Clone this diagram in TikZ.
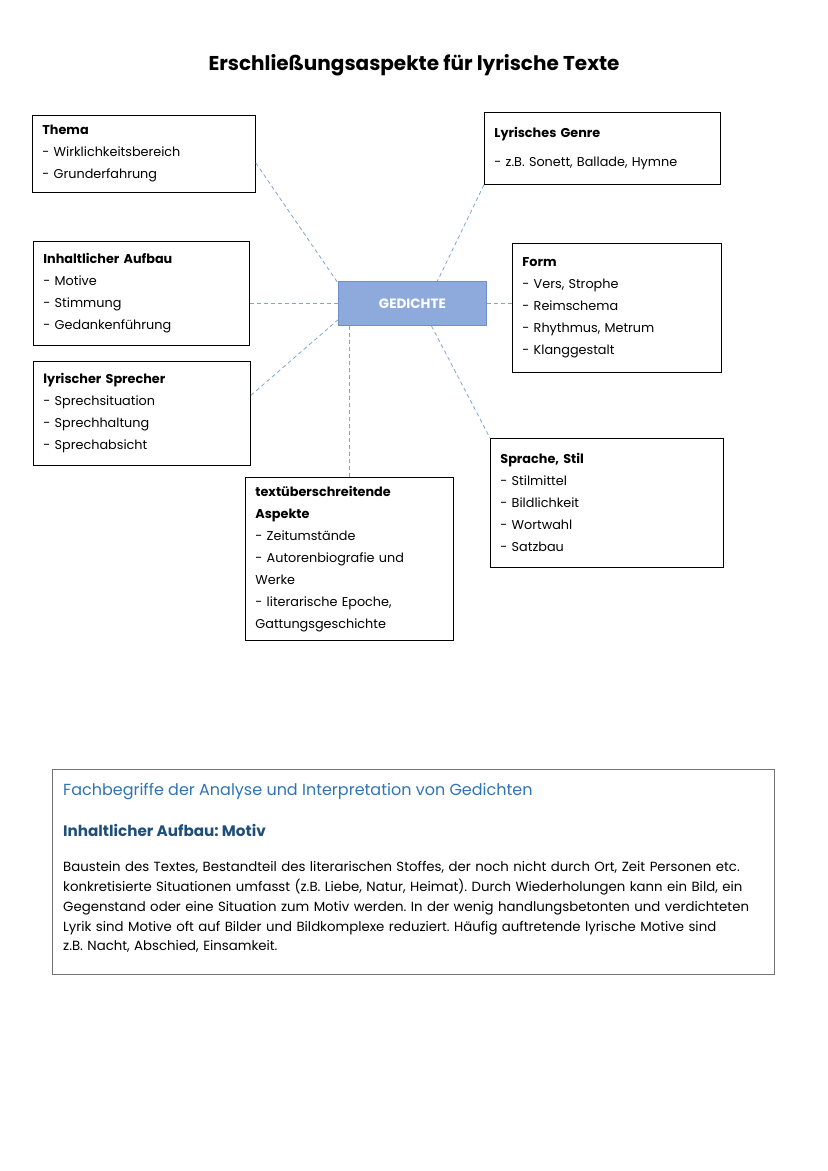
\documentclass[tikz,border=0pt]{standalone}
\usepackage{fontspec}
\setmainfont{Poppins}
\usepackage{xcolor}
\usetikzlibrary{positioning, calc}

\definecolor{linkblue}{HTML}{7AA8D6}
\definecolor{gedfill}{HTML}{8EAADC}
\definecolor{gedline}{HTML}{6E8FC8}
\definecolor{headblue}{HTML}{2E74B5}
\definecolor{darkblue}{HTML}{1F4E79}
\frenchspacing

\begin{document}
\begin{tikzpicture}[
    x=1pt, y=-1pt,
    box/.style={draw, line width=0.8pt, anchor=north west, inner xsep=10pt,
                inner ysep=0pt, align=left, font=\fontsize{12.8}{22}\selectfont},
    link/.style={draw=linkblue, dash pattern=on 4pt off 3pt, line width=0.8pt},
    textline/.style={anchor=west, inner sep=0pt}
]
\useasboundingbox (0,0) rectangle (828,1171);

% title
\node[font=\bfseries\fontsize{20}{24}\selectfont] (title) at (414,65)
    {Erschließungsaspekte für lyrische Texte};

% centre
\node[draw=gedline, fill=gedfill, line width=0.8pt, anchor=north west,
      minimum width=148pt, minimum height=44pt, text=white,
      font=\bfseries\fontsize{13.5}{15}\selectfont] (ged) at (338,281) {GEDICHTE};

% aspects
\node[box, text width=203pt, minimum height=77pt] (thema) at (32,115)
    {\textbf{Thema}\\- Wirklichkeitsbereich\\- Grunderfahrung};
\node[box, text width=216pt, minimum height=72pt] (genre) at (484,112)
    {\textbf{Lyrisches Genre}\\[7pt]- z.B. Sonett, Ballade, Hymne};
\node[box, text width=196pt, minimum height=104pt] (inhalt) at (33,241)
    {\textbf{Inhaltlicher Aufbau}\\- Motive\\- Stimmung\\- Gedankenführung};
\node[box, text width=189pt, minimum height=129pt] (form) at (512,243)
    {\textbf{Form}\\- Vers, Strophe\\- Reimschema\\- Rhythmus, Metrum\\- Klanggestalt};
\node[box, text width=197pt, minimum height=104pt] (sprecher) at (33,361)
    {\textbf{lyrischer Sprecher}\\- Sprechsituation\\- Sprechhaltung\\- Sprechabsicht};
\node[box, text width=213pt, minimum height=129pt] (sprache) at (490,438)
    {\textbf{Sprache, Stil}\\- Stilmittel\\- Bildlichkeit\\- Wortwahl\\- Satzbau};
\node[box, text width=188pt, minimum height=163pt] (kontext) at (245,477)
    {\textbf{textüberschreitende}\\\textbf{Aspekte}\\- Zeitumstände\\- Autorenbiografie und\\Werke\\- literarische Epoche,\\Gattungsgeschichte};

% connectors
\draw[link] ([yshift=-9pt]thema.east) -- ([yshift=-2pt]ged.north west);
\draw[link] (genre.south west) -- ([xshift=25pt]ged.north);
\draw[link] (ged.west) -- (ged.west -| inhalt.east);
\draw[link] ([yshift=18pt]sprecher.east) -- ([yshift=6pt]ged.south west);
\draw[link] (kontext.north) -- (kontext.north |- ged.south);
\draw[link] ([xshift=19pt]ged.south) -- (sprache.north west);
\draw[link] (ged.east) -- (ged.east -| form.west);

% glossary
\node[draw=black!55, line width=0.8pt, anchor=north west,
      minimum width=722pt, minimum height=205pt] (info) at (52,769) {};
\node[textline, text=headblue, font=\fontsize{16}{19}\selectfont]
    (fach) at ([xshift=11pt, yshift=-23pt]info.north west)
    {Fachbegriffe der Analyse und Interpretation von Gedichten};
\node[textline, text=darkblue, font=\fontsize{15.2}{18}\selectfont\bfseries]
    (motiv) at ([yshift=-38pt]fach.west)
    {Inhaltlicher Aufbau: Motiv};
\node[anchor=north west, inner sep=0pt, align=left, text width=710pt,
      font=\fontsize{13.3}{19.8}\selectfont] (erkl) at ([yshift=-25pt]motiv.south west)
    {Baustein des Textes, Bestandteil des literarischen Stoffes, der noch nicht durch Ort, Zeit Personen etc.\\
     konkretisierte Situationen umfasst (z.B. Liebe, Natur, Heimat). Durch Wiederholungen kann ein Bild, ein\\
     Gegenstand oder eine Situation zum Motiv werden. In der wenig handlungsbetonten und verdichteten\\
     Lyrik sind Motive oft auf Bilder und Bildkomplexe reduziert. Häufig auftretende lyrische Motive sind\\
     z.B. Nacht, Abschied, Einsamkeit.};
\end{tikzpicture}
\end{document}
